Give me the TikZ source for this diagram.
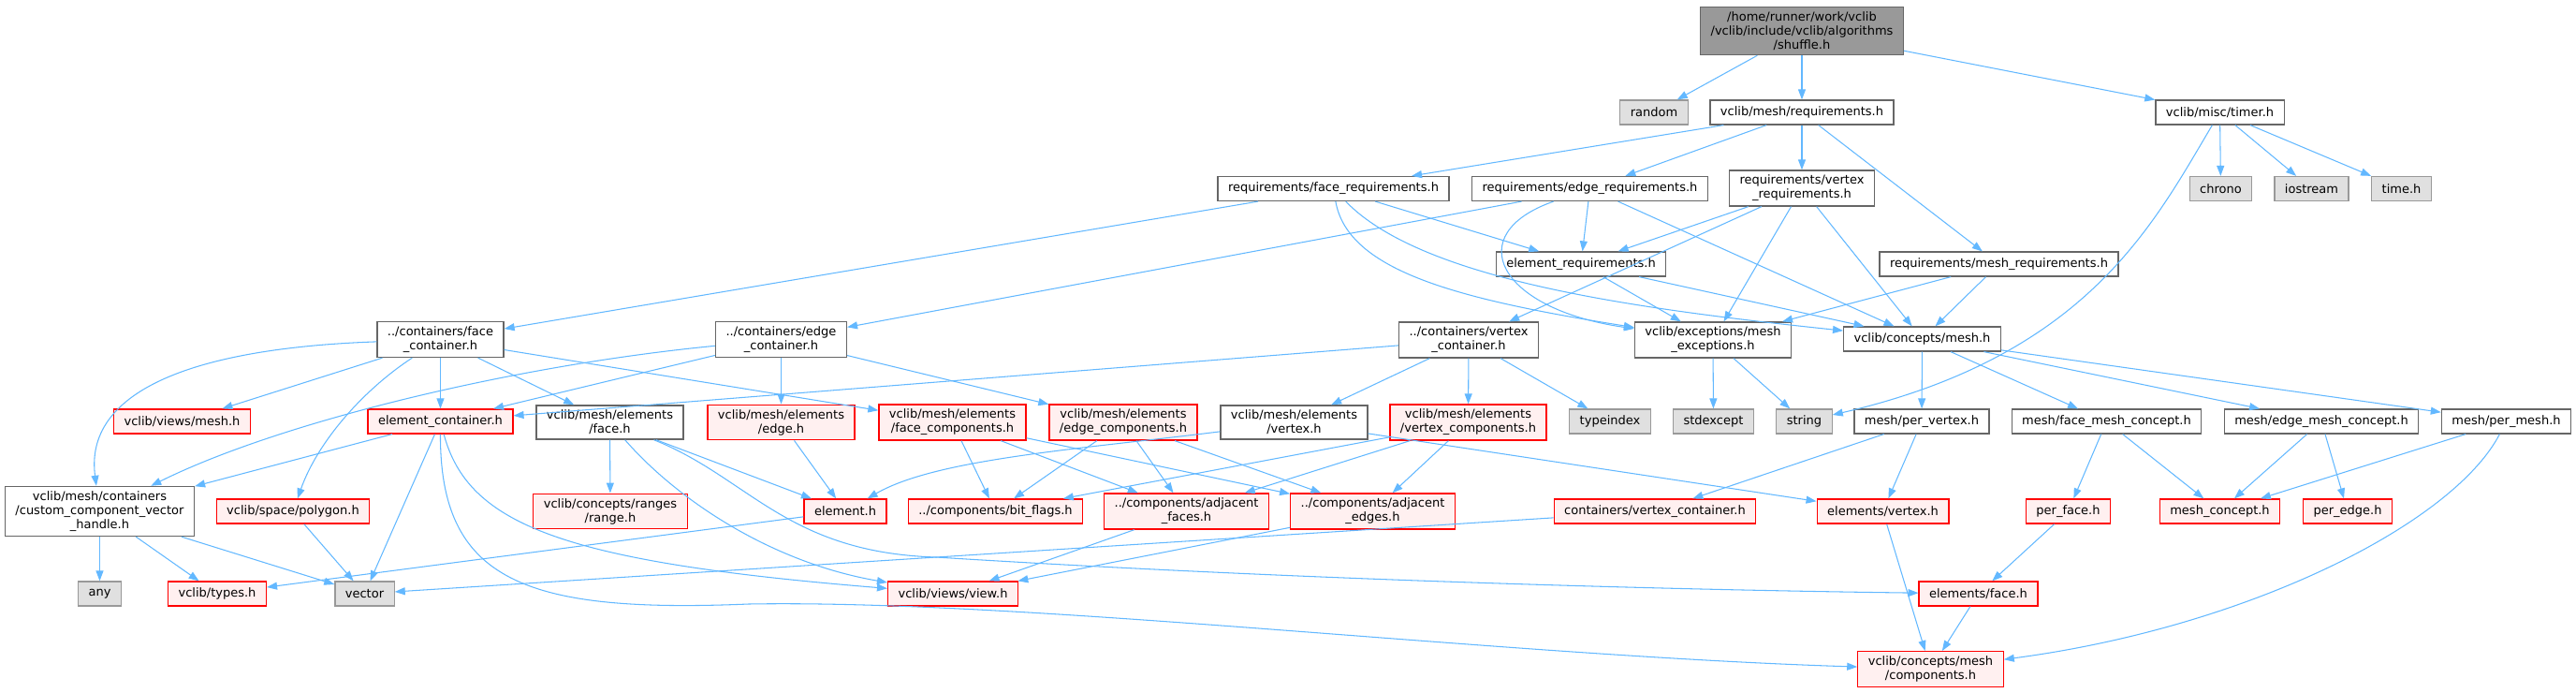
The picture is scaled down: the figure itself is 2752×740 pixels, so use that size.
\documentclass[tikz,border=0pt]{standalone}
\usepackage{fontspec}
\setmainfont{DejaVu Sans}
\usetikzlibrary{arrows.meta}
\definecolor{incblue}{HTML}{63B8FF}
\definecolor{boxgray}{HTML}{666666}
\definecolor{rootgray}{HTML}{999999}
\definecolor{sysline}{HTML}{999999}
\definecolor{sysfill}{HTML}{E0E0E0}
\definecolor{redfill}{HTML}{FFF0F0}
\begin{document}
\begin{tikzpicture}[x=0.02cm, y=-0.02cm,
    font=\fontsize{7.4}{8.6}\selectfont,
    hdr/.style={draw=boxgray, fill=white, line width=0.7pt, inner xsep=0.22cm, inner ysep=0.1cm, minimum height=0.52cm, align=center},
    hdrred/.style={hdr, draw=red, fill=redfill},
    hdrsys/.style={hdr, draw=sysline, fill=sysfill},
    inc/.style={draw=incblue, line width=0.6pt, -{Triangle[length=0.22cm,width=0.16cm]}}]
    \useasboundingbox (0,0) rectangle (2752,740);

    \node[hdr, fill=rootgray] (shuffle) at (1925,33) {/home/runner/work/vclib\\/vclib/include/vclib/algorithms\\/shuffle.h};
    \node[hdrsys] (random) at (1767,120) {random};
    \node[hdr] (requirements) at (1925,120) {vclib/mesh/requirements.h};
    \node[hdr] (timer) at (2371.5,120) {vclib/misc/timer.h};

    \node[hdr] (facereq) at (1424.5,201.5) {requirements/face\_requirements.h};
    \node[hdr] (edgereq) at (1698.5,201.5) {requirements/edge\_requirements.h};
    \node[hdr] (vertexreq) at (1925,201) {requirements/vertex\\\_requirements.h};
    \node[hdrsys] (chrono) at (2372.5,201.5) {chrono};
    \node[hdrsys] (iostream) at (2469.5,201.5) {iostream};
    \node[hdrsys] (timeh) at (2565.5,201.5) {time.h};

    \node[hdr] (elemreq) at (1689,282) {element\_requirements.h};
    \node[hdr] (meshreq) at (2135.5,282) {requirements/mesh\_requirements.h};

    \node[hdr] (facecont) at (470.5,362.5) {../containers/face\\\_container.h};
    \node[hdr] (edgecont) at (834.5,362.5) {../containers/edge\\\_container.h};
    \node[hdr] (vertexcont) at (1569,363) {../containers/vertex\\\_container.h};
    \node[hdr] (meshexc) at (1830,363) {vclib/exceptions/mesh\\\_exceptions.h};
    \node[hdr] (conceptmesh) at (2053.5,362) {vclib/concepts/mesh.h};

    \node[hdrred] (viewsmesh) at (194.5,450) {vclib/views/mesh.h};
    \node[hdrred] (elemcont) at (470.5,450) {element\_container.h};
    \node[hdr] (elface) at (651.5,451) {vclib/mesh/elements\\/face.h};
    \node[hdrred] (eledge) at (834.5,451) {vclib/mesh/elements\\/edge.h};
    \node[hdrred] (facecomp) at (1017.5,451) {vclib/mesh/elements\\/face\_components.h};
    \node[hdrred] (edgecomp) at (1200,451) {vclib/mesh/elements\\/edge\_components.h};
    \node[hdr] (elvertex) at (1382.5,451) {vclib/mesh/elements\\/vertex.h};
    \node[hdrred] (vertexcomp) at (1568.5,451) {vclib/mesh/elements\\/vertex\_components.h};
    \node[hdrsys] (typeindex) at (1720,450) {typeindex};
    \node[hdrsys] (stdexcept) at (1830.5,450) {stdexcept};
    \node[hdrsys] (string) at (1927.5,450) {string};
    \node[hdr] (pervertex) at (2053,450) {mesh/per\_vertex.h};
    \node[hdr] (facemeshc) at (2250.5,450) {mesh/face\_mesh\_concept.h};
    \node[hdr] (edgemeshc) at (2480,450) {mesh/edge\_mesh\_concept.h};
    \node[hdr] (permesh) at (2677.5,450) {mesh/per\_mesh.h};

    \node[hdr] (customvec) at (106.5,546) {vclib/mesh/containers\\/custom\_component\_vector\\\_handle.h};
    \node[hdrred] (polygon) at (313,546) {vclib/space/polygon.h};
    \node[hdrred] (range) at (652,546) {vclib/concepts/ranges\\/range.h};
    \node[hdrred] (elementh) at (903,546) {element.h};
    \node[hdrred] (bitflags) at (1063.5,546) {../components/bit\_flags.h};
    \node[hdrred] (adjfaces) at (1267.5,546) {../components/adjacent\\\_faces.h};
    \node[hdrred] (adjedges) at (1466.5,546) {../components/adjacent\\\_edges.h};
    \node[hdrred] (vertcontainer) at (1768,546) {containers/vertex\_container.h};
    \node[hdrred] (elemvertex) at (2011.5,546) {elements/vertex.h};
    \node[hdrred] (perface) at (2209.5,546) {per\_face.h};
    \node[hdrred] (meshconcept) at (2371.5,546) {mesh\_concept.h};
    \node[hdrred] (peredge) at (2508,546) {per\_edge.h};

    \node[hdrsys] (any) at (106.5,634) {any};
    \node[hdrred] (types) at (232,634) {vclib/types.h};
    \node[hdrsys] (vector) at (389.5,634) {vector};
    \node[hdrred] (view) at (1018,634) {vclib/views/view.h};
    \node[hdrred] (elemface) at (2113.5,634) {elements/face.h};
    \node[hdrred] (meshcomp) at (2062.5,714.5) {vclib/concepts/mesh\\/components.h};

    \draw[inc] (shuffle) -- (random);
    \draw[inc] (shuffle) -- (requirements);
    \draw[inc] (shuffle) -- (timer);

    \draw[inc] (requirements) -- (facereq);
    \draw[inc] (requirements) -- (edgereq);
    \draw[inc] (requirements) -- (vertexreq);
    \draw[inc] (requirements) -- (meshreq);

    \draw[inc] (timer) -- (chrono);
    \draw[inc] (timer) -- (iostream);
    \draw[inc] (timer) -- (timeh);
    \draw[inc] (timer) .. controls (2300,240) and (2230,380) .. (string);

    \draw[inc] (facereq) -- (facecont);
    \draw[inc] (facereq) -- (elemreq);
    \draw[inc] (facereq) .. controls (1440,290) and (1560,320) .. (meshexc);
    \draw[inc] (facereq) .. controls (1520,300) and (1750,330) .. (conceptmesh);

    \draw[inc] (edgereq) -- (edgecont);
    \draw[inc] (edgereq) -- (elemreq);
    \draw[inc] (edgereq) .. controls (1560,250) and (1600,330) .. (meshexc);
    \draw[inc] (edgereq) -- (conceptmesh);

    \draw[inc] (vertexreq) -- (elemreq);
    \draw[inc] (vertexreq) -- (vertexcont);
    \draw[inc] (vertexreq) -- (meshexc);
    \draw[inc] (vertexreq) -- (conceptmesh);

    \draw[inc] (elemreq) -- (meshexc);
    \draw[inc] (elemreq) -- (conceptmesh);
    \draw[inc] (meshreq) -- (meshexc);
    \draw[inc] (meshreq) -- (conceptmesh);

    \draw[inc] (meshexc) -- (stdexcept);
    \draw[inc] (meshexc) -- (string);

    \draw[inc] (conceptmesh) -- (pervertex);
    \draw[inc] (conceptmesh) -- (facemeshc);
    \draw[inc] (conceptmesh) -- (edgemeshc);
    \draw[inc] (conceptmesh) -- (permesh);

    \draw[inc] (facecont) .. controls (200,372) and (90,420) .. (customvec);
    \draw[inc] (facecont) -- (viewsmesh);
    \draw[inc] (facecont) .. controls (390,415) and (340,470) .. (polygon);
    \draw[inc] (facecont) -- (elemcont);
    \draw[inc] (facecont) -- (elface);
    \draw[inc] (facecont) -- (facecomp);

    \draw[inc] (edgecont) -- (elemcont);
    \draw[inc] (edgecont) .. controls (550,390) and (300,450) .. (customvec);
    \draw[inc] (edgecont) -- (eledge);
    \draw[inc] (edgecont) -- (edgecomp);

    \draw[inc] (vertexcont) -- (elemcont);
    \draw[inc] (vertexcont) -- (elvertex);
    \draw[inc] (vertexcont) -- (vertexcomp);
    \draw[inc] (vertexcont) -- (typeindex);

    \draw[inc] (elemcont) -- (customvec);
    \draw[inc] (elemcont) -- (vector);
    \draw[inc] (elemcont) .. controls (500,560) and (600,600) .. (view);
    \draw[inc] (elemcont) .. controls (470,620) and (560,655) .. (800,645) .. controls (1100,640) and (1600,700) .. (meshcomp);

    \draw[inc] (elface) -- (range);
    \draw[inc] (elface) -- (elementh);
    \draw[inc] (elface) .. controls (720,530) and (820,600) .. (view);
    \draw[inc] (elface) .. controls (800,510) and (840,590) .. (1000,595) .. controls (1400,620) and (1800,630) .. (elemface);

    \draw[inc] (eledge) -- (elementh);
    \draw[inc] (facecomp) -- (bitflags);
    \draw[inc] (facecomp) -- (adjfaces);
    \draw[inc] (facecomp) -- (adjedges);
    \draw[inc] (edgecomp) -- (bitflags);
    \draw[inc] (edgecomp) -- (adjfaces);
    \draw[inc] (edgecomp) -- (adjedges);
    \draw[inc] (elvertex) .. controls (1150,480) and (1000,490) .. (elementh);
    \draw[inc] (elvertex) -- (elemvertex);
    \draw[inc] (vertexcomp) -- (bitflags);
    \draw[inc] (vertexcomp) -- (adjfaces);
    \draw[inc] (vertexcomp) -- (adjedges);

    \draw[inc] (pervertex) -- (vertcontainer);
    \draw[inc] (pervertex) -- (elemvertex);
    \draw[inc] (facemeshc) -- (perface);
    \draw[inc] (facemeshc) -- (meshconcept);
    \draw[inc] (edgemeshc) -- (meshconcept);
    \draw[inc] (edgemeshc) -- (peredge);
    \draw[inc] (permesh) -- (meshconcept);
    \draw[inc] (permesh) .. controls (2620,560) and (2400,670) .. (meshcomp);

    \draw[inc] (customvec) -- (any);
    \draw[inc] (customvec) -- (types);
    \draw[inc] (customvec) -- (vector);
    \draw[inc] (polygon) -- (vector);
    \draw[inc] (elementh) -- (types);
    \draw[inc] (adjfaces) -- (view);
    \draw[inc] (adjedges) -- (view);
    \draw[inc] (vertcontainer) -- (vector);
    \draw[inc] (elemvertex) -- (meshcomp);
    \draw[inc] (perface) -- (elemface);
    \draw[inc] (elemface) -- (meshcomp);
\end{tikzpicture}
\end{document}
